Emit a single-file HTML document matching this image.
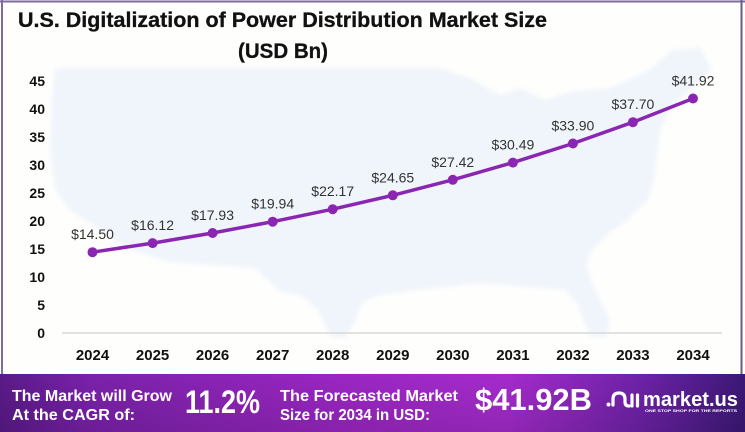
<!DOCTYPE html>
<html>
<head>
<meta charset="utf-8">
<style>
  html,body{margin:0;padding:0;background:#fff;}
  body{width:745px;height:432px;overflow:hidden;}
  svg{display:block;}
  text{font-family:"Liberation Sans", Arial, sans-serif;}
</style>
</head>
<body>
<svg width="745" height="432" viewBox="0 0 745 432" xmlns="http://www.w3.org/2000/svg">
  <defs>
    <linearGradient id="ban" x1="0" y1="0" x2="1" y2="0">
      <stop offset="0" stop-color="#5a1a88"/>
      <stop offset="0.12" stop-color="#7a21aa"/>
      <stop offset="0.45" stop-color="#9a26c2"/>
      <stop offset="0.68" stop-color="#a52bcc"/>
      <stop offset="0.86" stop-color="#6e22a8"/>
      <stop offset="1" stop-color="#3c1877"/>
    </linearGradient>
    <linearGradient id="banv" x1="0" y1="0" x2="0" y2="1">
      <stop offset="0" stop-color="#000" stop-opacity="0"/>
      <stop offset="1" stop-color="#000" stop-opacity="0.12"/>
    </linearGradient>
    <filter id="soft" x="-5%" y="-5%" width="110%" height="110%">
      <feGaussianBlur stdDeviation="2.5"/>
    </filter>
  </defs>

  <!-- background -->
  <rect x="0" y="0" width="745" height="432" fill="#fefefd"/>

  <!-- US map silhouette -->
  <path filter="url(#soft)" fill="#f0f5fb" d="M55,68 L440,68 L470,78 L500,95 L520,88 L545,100 L570,92 L610,88 L650,70 L672,50 L700,48 L712,70 L690,90 L672,105 L660,130 L655,175 L648,200 L625,222 L610,232 L592,250 L586,265 L595,290 L610,320 L606,338 L590,336 L578,305 L565,290 L540,288 L480,283 L420,290 L380,295 L362,302 L355,322 L345,338 L330,336 L318,310 L300,295 L280,292 L255,268 L170,262 L130,250 L100,230 L70,210 L55,190 L50,150 L52,100 Z"/>

  <!-- frame -->
  <line x1="0" y1="1.5" x2="745" y2="1.5" stroke="#7d6c9c" stroke-width="2"/>
  <line x1="2" y1="0" x2="2" y2="374" stroke="#7d6c9c" stroke-width="2"/>
  <line x1="741.5" y1="0" x2="741.5" y2="374" stroke="#6a5a86" stroke-width="2"/>

  <!-- title -->
  <text x="18" y="27" font-size="21" font-weight="bold" fill="#111" stroke="#111" stroke-width="0.3" textLength="529" lengthAdjust="spacingAndGlyphs">U.S. Digitalization of Power Distribution Market Size</text>
  <text x="238" y="58" font-size="21" font-weight="bold" fill="#111" stroke="#111" stroke-width="0.3" textLength="90" lengthAdjust="spacingAndGlyphs">(USD Bn)</text>

  <!-- y axis labels -->
  <g font-size="14" font-weight="bold" fill="#111" text-anchor="end">
    <text x="45" y="86">45</text>
    <text x="45" y="114">40</text>
    <text x="45" y="142">35</text>
    <text x="45" y="170">30</text>
    <text x="45" y="198">25</text>
    <text x="45" y="226">20</text>
    <text x="45" y="254">15</text>
    <text x="45" y="282">10</text>
    <text x="45" y="310">5</text>
    <text x="45" y="338">0</text>
  </g>

  <!-- baseline -->
  <line x1="62" y1="333" x2="722" y2="333" stroke="#d9d9d9" stroke-width="1.5"/>

  <!-- x axis labels -->
  <g font-size="15" font-weight="bold" fill="#111" text-anchor="middle">
    <text x="92.5" y="360">2024</text>
    <text x="152.6" y="360">2025</text>
    <text x="212.6" y="360">2026</text>
    <text x="272.7" y="360">2027</text>
    <text x="332.7" y="360">2028</text>
    <text x="392.8" y="360">2029</text>
    <text x="452.8" y="360">2030</text>
    <text x="512.9" y="360">2031</text>
    <text x="572.9" y="360">2032</text>
    <text x="632.9" y="360">2033</text>
    <text x="693" y="360">2034</text>
  </g>

  <!-- series -->
  <polyline fill="none" stroke="#8b26b3" stroke-width="3.5" stroke-linejoin="round" stroke-linecap="round"
    points="92.5,252.2 152.6,243.1 212.6,233 272.7,221.7 332.7,209.2 392.8,195.3 452.8,179.8 512.9,162.6 572.9,143.5 632.9,122.2 693,98.5"/>
  <g fill="#8b26b3">
    <circle cx="92.5" cy="252.2" r="5"/>
    <circle cx="152.6" cy="243.1" r="5"/>
    <circle cx="212.6" cy="233" r="5"/>
    <circle cx="272.7" cy="221.7" r="5"/>
    <circle cx="332.7" cy="209.2" r="5"/>
    <circle cx="392.8" cy="195.3" r="5"/>
    <circle cx="452.8" cy="179.8" r="5"/>
    <circle cx="512.9" cy="162.6" r="5"/>
    <circle cx="572.9" cy="143.5" r="5"/>
    <circle cx="632.9" cy="122.2" r="5"/>
    <circle cx="693" cy="98.5" r="5"/>
  </g>

  <!-- data labels -->
  <g font-size="14" fill="#333" text-anchor="middle">
    <text x="92.5" y="239.2">$14.50</text>
    <text x="152.6" y="230.1">$16.12</text>
    <text x="212.6" y="220">$17.93</text>
    <text x="272.7" y="208.7">$19.94</text>
    <text x="332.7" y="196.2">$22.17</text>
    <text x="392.8" y="182.3">$24.65</text>
    <text x="452.8" y="166.8">$27.42</text>
    <text x="512.9" y="149.6">$30.49</text>
    <text x="572.9" y="130.5">$33.90</text>
    <text x="632.9" y="109.2">$37.70</text>
    <text x="693" y="85.5">$41.92</text>
  </g>

  <!-- bottom banner -->
  <rect x="0" y="374" width="745" height="58" fill="url(#ban)"/>
  <rect x="0" y="374" width="745" height="58" fill="url(#banv)"/>

  <g fill="#fff" font-weight="bold">
    <text x="12" y="401" font-size="16" textLength="160" lengthAdjust="spacingAndGlyphs">The Market will Grow</text>
    <text x="12" y="420" font-size="16" textLength="123" lengthAdjust="spacingAndGlyphs">At the CAGR of:</text>
    <text x="185" y="413" font-size="32" textLength="75" lengthAdjust="spacingAndGlyphs">11.2%</text>
    <text x="280" y="401" font-size="16" textLength="178" lengthAdjust="spacingAndGlyphs">The Forecasted Market</text>
    <text x="280" y="420" font-size="16" textLength="150" lengthAdjust="spacingAndGlyphs">Size for 2034 in USD:</text>
    <text x="475" y="410" font-size="31" textLength="117" lengthAdjust="spacingAndGlyphs">$41.92B</text>
    <text x="643" y="406" font-size="20" textLength="95" lengthAdjust="spacingAndGlyphs">market.us</text>
    <text x="645" y="412" font-size="3.6" textLength="92" lengthAdjust="spacingAndGlyphs">ONE STOP SHOP FOR THE REPORTS</text>
  </g>

  <!-- logo icon -->
  <g stroke="#fff" stroke-width="3.2" fill="none" stroke-linecap="round">
    <path d="M613,405 L613,399 Q613,393 619,393 Q625,393 625,399 L625,402 Q625,406 629,406"/>
    <line x1="632" y1="395" x2="632" y2="406"/>
    <line x1="637.5" y1="395" x2="637.5" y2="406"/>
  </g>
  <circle cx="608.5" cy="404.5" r="2" fill="#fff"/>
</svg>
</body>
</html>
